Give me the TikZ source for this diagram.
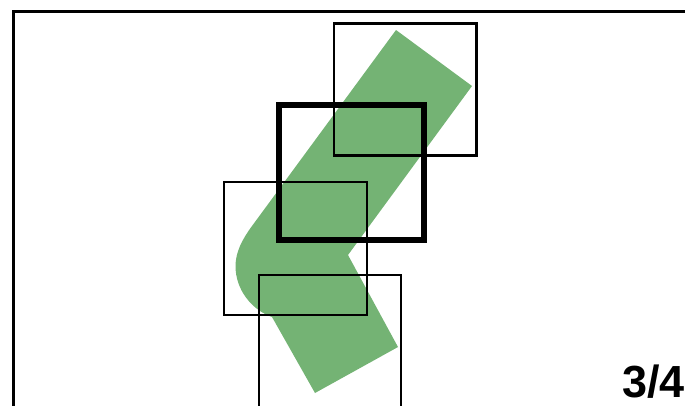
\documentclass[tikz,border=0pt]{standalone}
\usepackage{fontspec}
\setmainfont{Liberation Sans}
\definecolor{leaf}{RGB}{116,179,116}
\begin{document}
\begin{tikzpicture}[x=1pt,y=-1pt,
  thinbox/.style={draw=black,line width=2.2pt,inner sep=0pt,outer sep=0pt,rectangle},
  thickbox/.style={draw=black,line width=6pt,inner sep=0pt,outer sep=0pt,rectangle},
  frame/.style={draw=black,line width=2.8pt}]
\useasboundingbox (0,0) rectangle (685,405);
\clip (0,0) rectangle (685,405);
% green bent band
\fill[leaf] (396,30) -- (472,86) -- (348,255) -- (398,347) -- (315,393)
  -- (272,317) .. controls (252,310) and (235.5,290) .. (235.5,266)
  .. controls (235.5,252) and (242.5,238.9) .. (252,226) -- cycle;
% outer frame
\coordinate (fa) at (720,11.5);
\coordinate (fb) at (13.3,11.5);
\coordinate (fc) at (13.3,430);
\draw[frame] (fa) -- (fb) -- (fc);
% boxes
\node[thinbox,minimum width=142.7pt,minimum height=132pt] (top) at (405.15,89.5) {};
\node[thinbox,minimum width=143pt,minimum height=133.4pt] (mid) at (295.3,248.5) {};
\node[thinbox,minimum width=142.4pt,minimum height=133pt] (bot) at (330,341.3) {};
\node[thickbox,minimum width=145.3pt,minimum height=135pt] (cur) at (351.35,172.8) {};
% label
\node[anchor=base east,inner sep=0pt,font=\bfseries\fontsize{45}{45}\selectfont] (lbl) at (685,397) {3/4};
\end{tikzpicture}
\end{document}
